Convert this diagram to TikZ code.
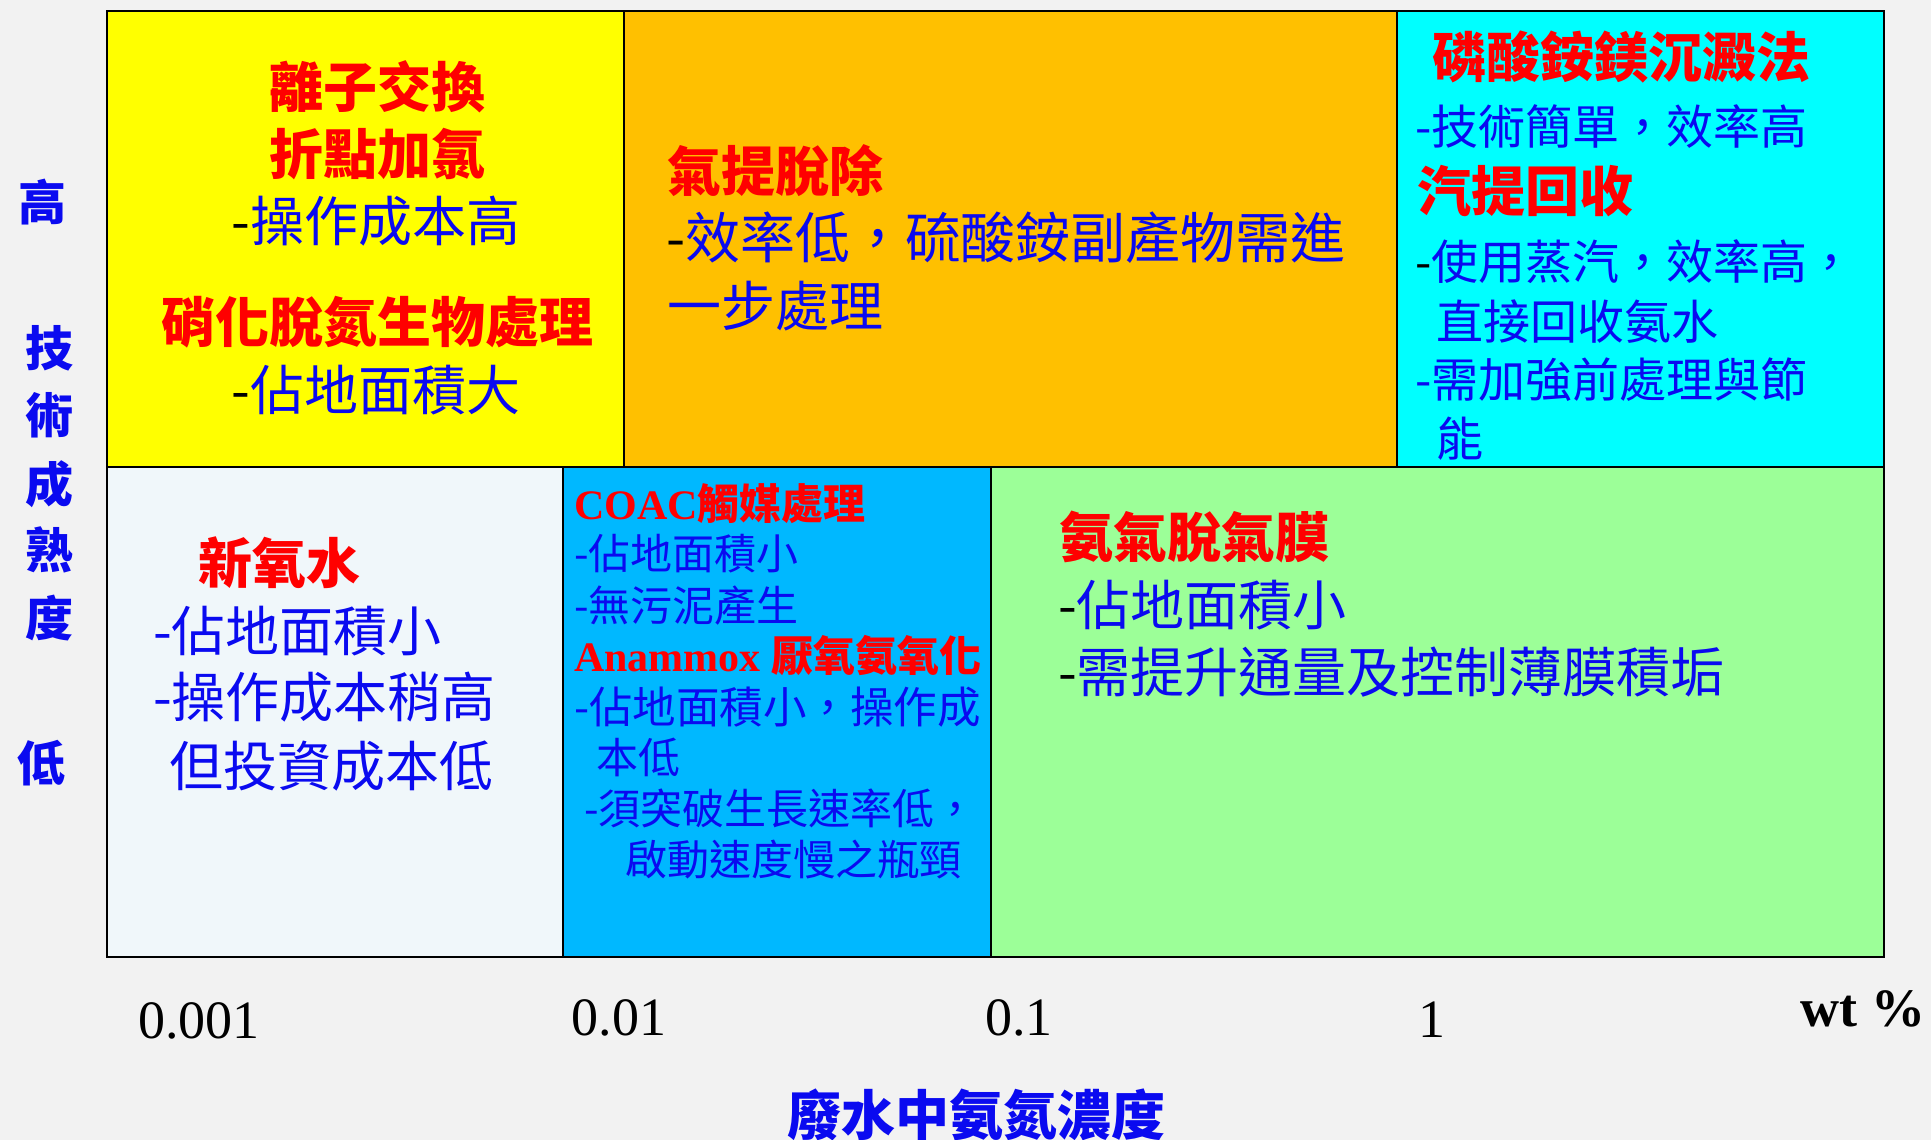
\documentclass[tikz,border=0pt]{standalone}
\usepackage{fontspec}
\setmainfont{Liberation Serif}
\newfontfamily\cjk{Noto Sans CJK TC}
\definecolor{bgc}{HTML}{F2F2F2}
\definecolor{cyel}{HTML}{FFFF00}
\definecolor{corg}{HTML}{FFC000}
\definecolor{ccya}{HTML}{00FFFF}
\definecolor{clig}{HTML}{F0F7FA}
\definecolor{cblu}{HTML}{00B8FF}
\definecolor{cgrn}{HTML}{9CFF98}
\definecolor{tblue}{HTML}{0A0AF0}
\definecolor{tred}{HTML}{FF0000}
\newcommand{\blkdash}{\textcolor{black}{-}}
\begin{document}
\begin{tikzpicture}[x=1pt,y=-1pt,
  cell/.style={inner sep=0pt,outer sep=0pt,anchor=north west},
  ttl/.style={inner sep=0pt,text=tred,font=\cjk\bfseries\fontsize{54}{60}\selectfont},
  txt/.style={inner sep=0pt,text=tblue,font=\cjk\fontsize{54}{60}\selectfont},
  ctxt/.style={inner sep=0pt,text=tblue,font=\cjk\fontsize{47}{52}\selectfont},
  sttl/.style={inner sep=0pt,text=tred,font=\bfseries\fontsize{42}{48}\selectfont},
  stxt/.style={inner sep=0pt,text=tblue,font=\cjk\fontsize{42}{48}\selectfont},
  ax/.style={inner sep=0pt,text=tblue,font=\cjk\bfseries\fontsize{48}{52}\selectfont},
  num/.style={inner sep=0pt,text=black,font=\fontsize{54}{60}\selectfont}]
\fill[bgc] (0,0) rectangle (1931,1140);
\useasboundingbox (0,0) rectangle (1931,1140);
% cells
\node[cell,fill=cyel,minimum width=517pt,minimum height=456pt] (yel) at (107,11) {};
\node[cell,fill=corg,minimum width=773pt,minimum height=456pt] (org) at (624,11) {};
\node[cell,fill=ccya,minimum width=487pt,minimum height=456pt] (cya) at (1397,11) {};
\node[cell,fill=clig,minimum width=456pt,minimum height=490pt] (lig) at (107,467) {};
\node[cell,fill=cblu,minimum width=428pt,minimum height=490pt] (blu) at (563,467) {};
\node[cell,fill=cgrn,minimum width=893pt,minimum height=490pt] (grn) at (991,467) {};
\foreach \n in {yel,org,cya,lig,blu,grn}
  \draw[line width=2.5pt] (\n.north west) rectangle (\n.south east);
% yellow
\node[ttl] (y1) at (377,87) {離子交換};
\node[ttl] (y2) at (377,154) {折點加氯};
\node[txt] (y3) at (376,221) {\blkdash 操作成本高};
\node[ttl] (y4) at (377,322) {硝化脫氮生物處理};
\node[txt] (y5) at (376,390) {\blkdash 佔地面積大};
% orange
\node[ttl,anchor=west] (o1) at (667,171) {氣提脫除};
\node[txt,anchor=west,font=\cjk\fontsize{55}{60}\selectfont] (o2) at (666,238) {\blkdash 效率低，硫酸銨副產物需進};
\node[txt,anchor=west] (o3) at (667,306) {一步處理};
% cyan
\node[ttl,anchor=west] (c1) at (1432,57) {磷酸銨鎂沉澱法};
\node[ctxt,anchor=west] (c2) at (1415,127) {-技術簡單，效率高};
\node[ttl,anchor=west] (c3) at (1417,191) {汽提回收};
\node[ctxt,anchor=west] (c4) at (1415,262) {\blkdash 使用蒸汽，效率高，};
\node[ctxt,anchor=west] (c5) at (1436,322) {直接回收氨水};
\node[ctxt,anchor=west] (c6) at (1415,380) {-需加強前處理與節};
\node[ctxt,anchor=west] (c7) at (1436,439) {能};
% light
\node[ttl,anchor=west] (l1) at (198,563) {新氧水};
\node[txt,anchor=west] (l2) at (153,631) {-佔地面積小};
\node[txt,anchor=west] (l3) at (153,697) {-操作成本稍高};
\node[txt,anchor=west] (l4) at (169,766) {但投資成本低};
% blue
\node[sttl,anchor=west] (b1) at (574,504) {COAC{\cjk 觸媒處理}};
\node[stxt,anchor=west] (b2) at (574,554) {-佔地面積小};
\node[stxt,anchor=west] (b3) at (574,606) {-無污泥產生};
\node[sttl,anchor=west] (b4) at (574,656) {Anammox {\cjk 厭氧氨氧化}};
\node[stxt,anchor=west,font=\cjk\fontsize{43.5}{48}\selectfont] (b5) at (574,707) {-佔地面積小，操作成};
\node[stxt,anchor=west] (b6) at (596,757) {本低};
\node[stxt,anchor=west] (b7) at (584,808) {-須突破生長速率低，};
\node[stxt,anchor=west] (b8) at (625,860) {啟動速度慢之瓶頸};
% green
\node[ttl,anchor=west] (g1) at (1059,537) {氨氣脫氣膜};
\node[txt,anchor=west] (g2) at (1058,605) {\blkdash 佔地面積小};
\node[txt,anchor=west] (g3) at (1058,672) {\blkdash 需提升通量及控制薄膜積垢};
% vertical axis
\node[ax] (a1) at (42,202) {高};
\node[ax] (a2) at (49,348) {技};
\node[ax] (a3) at (49,415) {術};
\node[ax] (a4) at (49,484) {成};
\node[ax] (a5) at (49,550) {熟};
\node[ax] (a6) at (49,618) {度};
\node[ax] (a7) at (41,763) {低};
% horizontal axis
\node[num] (n1) at (199,1021) {0.001};
\node[num] (n2) at (619,1018) {0.01};
\node[num] (n3) at (1019,1018) {0.1};
\node[num] (n4) at (1432,1020) {1};
\node[num,font=\bfseries\fontsize{54}{60}\selectfont] (n5) at (1863,1009) {wt \%};
\node[ax,font=\cjk\bfseries\fontsize{54}{60}\selectfont] (xt) at (976,1115) {廢水中氨氮濃度};
\end{tikzpicture}
\end{document}
